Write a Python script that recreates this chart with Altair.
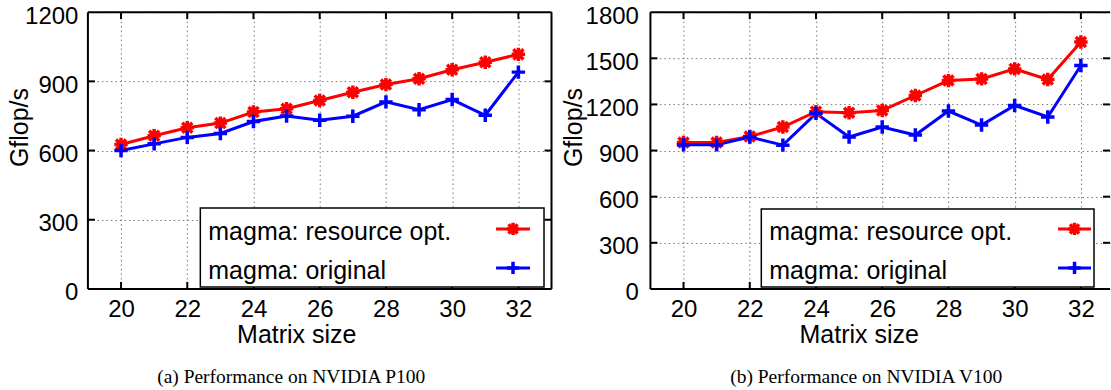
import altair as alt
import pandas as pd

# ---------------- data ----------------
sizes = [20, 21, 22, 23, 24, 25, 26, 27, 28, 29, 30, 31, 32]
p100_opt = [626, 664, 699, 719, 767, 781, 817, 853, 886, 911, 950, 983, 1017]
p100_orig = [600, 629, 657, 674, 726, 750, 731, 749, 811, 777, 821, 753, 940]
v100_opt = [952, 952, 991, 1053, 1153, 1146, 1161, 1258, 1355, 1366, 1431, 1362, 1606]
v100_orig = [937, 937, 988, 935, 1142, 988, 1053, 1001, 1157, 1066, 1193, 1118, 1453]
series_names = ["magma: resource opt.", "magma: original"]
x_ticks = [20, 22, 24, 26, 28, 30, 32]
p100_yticks = [0, 300, 600, 900, 1200]
v100_yticks = [0, 300, 600, 900, 1200, 1500, 1800]
captions = ["(a) Performance on NVIDIA P100", "(b) Performance on NVIDIA V100"]
x_title = "Matrix size"
y_title = "Gflop/s"

# ---------------- style ----------------
COLORS = ["#ff0000", "#0000ff"]
STAR = "M-1,0L1,0M0,-1L0,1M-0.75,-0.75L0.75,0.75M-0.75,0.75L0.75,-0.75"
PLUS = "M-1,0L1,0M0,-1L0,1"
SHAPES = [STAR, PLUS]
FONT = "Liberation Sans"
SERIF = "Liberation Serif"
H = 277


def panel(opt, orig, yticks, width, xdom, caption, cap_x, ytitle_x, ylab_pad,
          right_border, leg):
    n = len(sizes)
    df = pd.DataFrame({
        "size": sizes * 2,
        "value": opt + orig,
        "series": [series_names[0]] * n + [series_names[1]] * n,
    })
    xs = alt.Scale(domain=xdom, nice=False, zero=False)
    ys = alt.Scale(domain=[yticks[0], yticks[-1]], nice=False)
    color = alt.Color("series:N", scale=alt.Scale(domain=series_names, range=COLORS), legend=None)
    shape = alt.Shape("series:N", scale=alt.Scale(domain=series_names, range=SHAPES), legend=None)

    xaxis = alt.Axis(values=x_ticks, format="d", title=x_title, grid=True, ticks=False,
                     domain=False, labelPadding=9, titleX=208.5, titleY=46,
                     titleAlign="center", titleBaseline="middle")
    yaxis = alt.Axis(values=yticks, format="d", title=y_title, grid=True, ticks=False,
                     domain=False, labelPadding=ylab_pad, labelOffset=4, titleX=ytitle_x,
                     titleY=115, titleAngle=270, titleAlign="center", titleBaseline="middle")
    X = alt.X("size:Q", scale=xs, axis=xaxis)
    Y = alt.Y("value:Q", scale=ys, axis=yaxis)

    base = alt.Chart(df).encode(x=X, y=Y, color=color)
    lines = base.mark_line(strokeWidth=3)
    blobs = base.transform_filter(alt.datum.series == series_names[0]).mark_point(
        filled=True, shape="square", size=70, opacity=1)
    pts = base.mark_point(filled=False, strokeWidth=3.5, size=180, opacity=1).encode(shape=shape)

    layers = [lines, blobs, pts]

    # inward ticks
    xt = alt.Chart(pd.DataFrame({"size": x_ticks}))
    layers.append(xt.mark_rule(color="black", strokeWidth=2).encode(
        x=X, y=alt.value(H), y2=alt.value(H - 7)))
    layers.append(xt.mark_rule(color="black", strokeWidth=2).encode(
        x=X, y=alt.value(0), y2=alt.value(7)))
    yt = alt.Chart(pd.DataFrame({"value": yticks[1:-1]}))
    layers.append(yt.mark_rule(color="black", strokeWidth=2).encode(
        y=Y, x=alt.value(0), x2=alt.value(7)))
    layers.append(yt.mark_rule(color="black", strokeWidth=2).encode(
        y=Y, x=alt.value(width - 7), x2=alt.value(width)))

    # border
    dummy = alt.Chart(pd.DataFrame({"d": [0]}))
    layers.append(dummy.mark_rule(color="black", strokeWidth=2).encode(
        x=alt.value(0), x2=alt.value(width), y=alt.value(0)))
    layers.append(dummy.mark_rule(color="black", strokeWidth=2).encode(
        x=alt.value(0), x2=alt.value(width), y=alt.value(H)))
    layers.append(dummy.mark_rule(color="black", strokeWidth=2).encode(
        x=alt.value(0), y=alt.value(0), y2=alt.value(H)))
    if right_border:
        layers.append(dummy.mark_rule(color="black", strokeWidth=2).encode(
            x=alt.value(width), y=alt.value(0), y2=alt.value(H)))

    # legend
    bx0, bx1, by0, by1, tx, sx0, sx1, rows = leg
    layers.append(dummy.mark_rect(fill="white", stroke="black", strokeWidth=1.5).encode(
        x=alt.value(bx0), x2=alt.value(bx1), y=alt.value(by0), y2=alt.value(by1)))
    for i, (name, ry) in enumerate(zip(series_names, rows)):
        ld = alt.Chart(pd.DataFrame({"series": [name]}))
        layers.append(ld.mark_text(align="left", baseline="middle", font=FONT, fontSize=25,
                                   color="black").encode(
            x=alt.value(tx), y=alt.value(ry + 3), text="series:N"))
        layers.append(ld.mark_rule(strokeWidth=3).encode(
            x=alt.value(sx0), x2=alt.value(sx1), y=alt.value(ry), color=color))
        if i == 0:
            layers.append(ld.mark_point(filled=True, shape="square", size=60, opacity=1).encode(
                x=alt.value((sx0 + sx1) / 2), y=alt.value(ry), color=color))
        layers.append(ld.mark_point(filled=False, strokeWidth=3.5, size=150, opacity=1).encode(
            x=alt.value((sx0 + sx1) / 2), y=alt.value(ry), color=color, shape=shape))

    # caption
    cd = alt.Chart(pd.DataFrame({"caption": [caption]}))
    layers.append(cd.mark_text(align="center", baseline="middle", font=SERIF, fontSize=19.5,
                               color="black").encode(
        x=alt.value(cap_x), y=alt.value(365), text="caption:N"))

    return alt.layer(*layers).properties(width=width, height=H)


left = panel(p100_opt, p100_orig, p100_yticks, 464, [19, 33], captions[0], 203.5,
             -68.5, 10, True,
             (112.5, 456.5, 196, 275, 120.5, 408.5, 442.5, [217, 256]))
right = panel(v100_opt, v100_orig, v100_yticks, 460, [19, 19 + 460 / 464 * 14], captions[1], 216,
              -76.7, 12, False,
              (111, 444, 197, 275, 119, 408, 441, [217, 256]))

chart = alt.hconcat(left, right, spacing=99, bounds="flush").properties(
    padding={"left": 7, "top": 4, "right": 0, "bottom": 0}
).configure_axis(
    labelFont=FONT, labelFontSize=24, labelColor="black",
    titleFont=FONT, titleFontSize=25, titleFontWeight="normal", titleColor="black",
    gridColor="#777777", gridDash=[1.5, 3], gridWidth=1,
).configure_view(stroke=None)

chart.save("out.html", embed_options={"renderer": "svg", "actions": False})
